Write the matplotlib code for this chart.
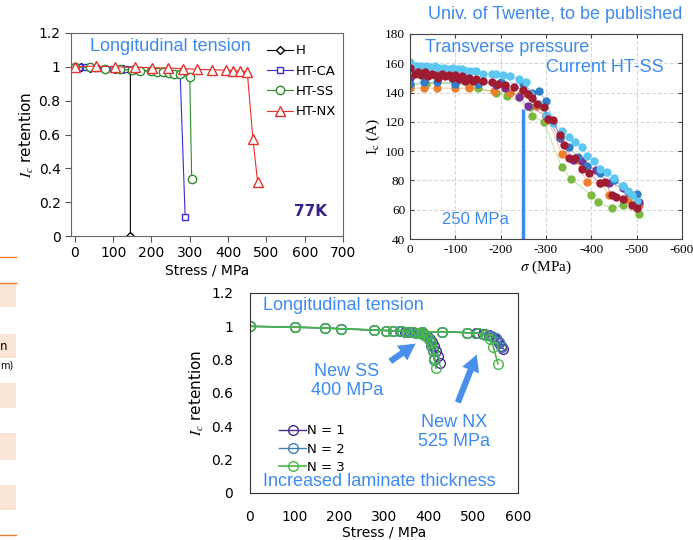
import numpy as np
import matplotlib.pyplot as plt
from matplotlib.patches import Rectangle

plt.rcParams['axes.unicode_minus'] = False
plt.rcParams['mathtext.fontset'] = 'stix'

W, H = 693, 540
BLUE_TXT = '#3d8af0'

# ---- panel 1: longitudinal tension, 77K ----
h_x = [0, 15, 40, 80, 105, 125, 145, 145]
h_y = [1.0, 1.0, 0.995, 0.99, 0.985, 0.985, 0.98, 0.0]
ca_x = [0, 12, 30, 55, 80, 100, 130, 160, 200, 240, 275, 288]
ca_y = [1.0, 1.0, 0.998, 0.995, 0.99, 0.988, 0.985, 0.98, 0.975, 0.965, 0.955, 0.11]
ss_x = [0, 40, 80, 118, 150, 170, 200, 215, 230, 245, 260, 275, 300, 305]
ss_y = [1.0, 0.997, 0.99, 0.985, 0.98, 0.978, 0.975, 0.97, 0.968, 0.965, 0.96, 0.958, 0.938, 0.339]
nx_x = [0, 54, 104, 157, 202, 242, 283, 319, 358, 394, 413, 431, 450, 465, 477]
nx_y = [1.0, 1.005, 1.0, 0.997, 0.995, 0.993, 0.99, 0.985, 0.983, 0.98, 0.978, 0.976, 0.97, 0.572, 0.321]

# ---- panel 2: transverse pressure (Twente) ----
lb_x = [0, -8, -15, -25, -35, -45, -55, -65, -75, -85, -95, -105, -115, -125, -135, -145,
        -160, -180, -190, -205, -220, -240, -255, -265, -285, -300, -315, -335, -350, -365,
        -380, -390, -405, -420, -435, -450, -470, -480, -490, -500]
lb_y = [161, 158, 158, 158, 158, 157.5, 158, 157, 157, 156, 157, 156, 156, 155, 155, 155,
        153, 153, 153, 152, 151, 149, 147, 139, 132, 125, 119, 114, 110, 106,
        103, 97, 93, 88, 86, 82, 76, 73, 70, 66]
bl_x = [0, -30, -60, -100, -150, -200, -250, -270, -285, -300, -330, -350, -370, -390, -420, -450, -470, -500]
bl_y = [146, 147, 147, 146, 146, 147, 146, 140, 141, 134, 110, 103, 96, 90, 85, 80, 76, 71]
pu_x = [0, -35, -100, -130, -190, -210, -240, -260, -300, -330, -360, -380, -410, -440, -470, -480, -505]
pu_y = [150, 151, 150, 149, 145, 143, 137, 131, 124, 109, 94, 93, 87, 78, 75, 72, 65]
mr_x = [0, -10, -18, -25, -32, -40, -48, -55, -62, -70, -78, -85, -92, -100, -108, -115, -122,
        -130, -138, -145, -160, -180, -195, -210, -230, -250, -260, -270, -280, -295, -305,
        -315, -330, -340, -350, -365, -380, -395, -420, -430, -445, -455, -470, -490, -500]
mr_y = [157, 153, 154, 152, 154, 151, 153, 152, 150, 153, 151, 152, 150, 152, 149, 151, 148,
        150, 148, 149, 148, 147, 146, 145, 144, 142, 139, 136, 132, 130, 122,
        121, 111, 104, 95, 95, 88, 85, 78, 79, 70, 69, 67, 63, 61]
or_x = [0, -30, -60, -100, -130, -185, -220, -245, -280, -305, -335, -365, -390, -420, -440, -480, -505]
or_y = [143, 143, 143, 143, 143, 141, 140, 139, 131, 121, 98, 94, 79, 78, 70, 67, 63]
gr_x = [0, -35, -100, -130, -150, -190, -215, -265, -270, -295, -335, -355, -400, -415, -445, -470, -505]
gr_y = [145, 146, 147, 144, 143, 140, 138, 130, 124, 120, 89, 81, 70, 65, 61, 63, 57]

# ---- panel 3: increased laminate thickness ----
n1_ss_x = [0, 100, 168, 204, 278, 304, 321, 336, 348, 358, 366, 374, 382, 390, 397, 403, 408, 412, 416, 420, 425]
n1_ss_y = [1.0, 0.995, 0.99, 0.985, 0.978, 0.975, 0.972, 0.97, 0.968, 0.966, 0.964, 0.962, 0.958, 0.952, 0.94, 0.925, 0.905, 0.88, 0.85, 0.82, 0.78]
n2_ss_x = [0, 100, 168, 204, 278, 304, 321, 336, 350, 362, 372, 382, 390, 397, 402, 406, 409, 412]
n2_ss_y = [1.0, 0.995, 0.99, 0.985, 0.978, 0.975, 0.972, 0.97, 0.968, 0.965, 0.962, 0.958, 0.95, 0.935, 0.915, 0.885, 0.85, 0.80]
n3_ss_x = [0, 100, 168, 204, 278, 304, 321, 340, 352, 364, 375, 385, 393, 400, 405, 410, 413, 416]
n3_ss_y = [1.0, 0.995, 0.99, 0.985, 0.978, 0.975, 0.972, 0.975, 0.968, 0.964, 0.96, 0.955, 0.945, 0.925, 0.9, 0.86, 0.81, 0.75]
n1_nx_x = [385, 430, 485, 507, 522, 535, 545, 552, 558, 563, 567]
n1_nx_y = [0.965, 0.968, 0.962, 0.96, 0.956, 0.948, 0.935, 0.92, 0.9, 0.88, 0.865]
n2_nx_x = [385, 430, 485, 510, 527, 540, 550, 558, 565]
n2_nx_y = [0.965, 0.968, 0.962, 0.96, 0.955, 0.945, 0.93, 0.905, 0.875]
n3_nx_x = [385, 430, 485, 510, 525, 537, 545, 555]
n3_nx_y = [0.965, 0.968, 0.962, 0.958, 0.95, 0.925, 0.875, 0.775]


def pos(l, t, r, b):
    return [l / W, 1 - b / H, (r - l) / W, (b - t) / H]


fig = plt.figure(figsize=(W / 100, H / 100), dpi=100)

# left strip: bits of a neighbouring table
peach = '#fbe5d6'
orange = '#ed7d31'
for t, b in [(283, 307), (334, 358), (383, 408), (433, 460), (485, 510)]:
    fig.add_artist(Rectangle((0, 1 - b / H), 16 / W, (b - t) / H, transform=fig.transFigure,
                             facecolor=peach, edgecolor='none'))
for yy in [257, 283, 535]:
    fig.add_artist(plt.Line2D([0, 16 / W], [1 - yy / H] * 2, transform=fig.transFigure,
                              color=orange, lw=1))
fig.text(0, 1 - 346 / H, 'n', fontsize=8.5, va='center', ha='left')
fig.text(0, 1 - 366 / H, 'm)', fontsize=7, va='center', ha='left')

# ---------------- panel 1 ----------------
ax1 = fig.add_axes(pos(71, 33, 343, 236))
ax1.plot(h_x, h_y, color='black', lw=0.8, marker='D', ms=4, mfc='white', label='H')
ax1.plot(ca_x, ca_y, color='#3a2bd9', lw=0.8, marker='s', ms=5, mfc='white', label='HT-CA')
ax1.plot(ss_x, ss_y, color='#2e8b2e', lw=0.8, marker='o', ms=6, mfc='white', label='HT-SS')
ax1.plot(nx_x, nx_y, color='#e8302a', lw=0.8, marker='^', ms=7, mfc='white', label='HT-NX')
ax1.set_xlim(-10, 700)
ax1.set_ylim(0, 1.2)
ax1.set_xticks(range(0, 701, 100))
ax1.set_yticks([0, 0.2, 0.4, 0.6, 0.8, 1.0, 1.2])
ax1.set_yticklabels(['0', '0.2', '0.4', '0.6', '0.8', '1', '1.2'])
ax1.tick_params(labelsize=10, length=4, color='#555555')
for s in ax1.spines.values():
    s.set_color('#666666')
ax1.set_xlabel('Stress / MPa', fontsize=10, labelpad=2)
ax1.set_ylabel('$I_c$ retention', fontsize=11, labelpad=2)
ax1.legend(loc='upper left', bbox_to_anchor=(0.70, 0.97), frameon=False, fontsize=9.5,
           handlelength=2.0, handletextpad=0.2, labelspacing=0.55, borderaxespad=0)
ax1.text(39, 1.123, 'Longitudinal tension', color=BLUE_TXT, fontsize=13,
         family='Liberation Sans', va='center')
ax1.text(614, 0.142, '77K', color='#3a1f8f', fontsize=11, fontweight='bold',
         ha='center', va='center')

# ---------------- panel 2 ----------------
ax2 = fig.add_axes(pos(410, 34, 682, 239))
series2 = [(gr_x, gr_y, '#7bb842'), (or_x, or_y, '#f07f2a'), (pu_x, pu_y, '#7b3294'),
           (bl_x, bl_y, '#2f7fc8'), (lb_x, lb_y, '#5cc8f2'), (mr_x, mr_y, '#9e1b32')]
for xs, ys, c in series2:
    ax2.plot(xs, ys, color=c, lw=0.7, alpha=0.45)
    ax2.plot(xs, ys, ls='none', marker='o', ms=6, color=c, mec='none')
ax2.set_xlim(0, -600)
ax2.set_ylim(40, 180)
ax2.set_xticks(range(0, -601, -100))
ax2.set_yticks(range(40, 181, 20))
ax2.grid(True, ls='--', color='#d8d8d8', lw=0.8)
ax2.set_axisbelow(True)
ax2.tick_params(direction='in', top=True, right=True, labelsize=9.5, length=3, color='#444444')
for lab in ax2.get_xticklabels() + ax2.get_yticklabels():
    lab.set_family('Liberation Serif')
for s in ax2.spines.values():
    s.set_color('#444444')
ax2.set_xlabel(r'$\sigma$ (MPa)', fontsize=11, family='Liberation Serif', labelpad=2)
ax2.set_ylabel(r'I$_\mathrm{c}$ (A)', fontsize=11, family='Liberation Serif', labelpad=2)
ax2.plot([-250, -250], [40, 129], color=BLUE_TXT, lw=2.5, solid_capstyle='butt')
ax2.text(-33, 171.1, 'Transverse pressure', color=BLUE_TXT, fontsize=13,
         family='Liberation Sans', va='center')
ax2.text(-300, 156.8, 'Current HT-SS', color=BLUE_TXT, fontsize=13,
         family='Liberation Sans', va='center')
ax2.text(-71, 53, '250 MPa', color=BLUE_TXT, fontsize=12,
         family='Liberation Sans', va='center')
ax2.text(-40, 193, 'Univ. of Twente, to be published', color=BLUE_TXT, fontsize=13,
         family='Liberation Sans', va='center', clip_on=False)

# ---------------- panel 3 ----------------
ax3 = fig.add_axes(pos(250, 293, 518, 493))
c1, c2, c3 = '#4b2a8c', '#3f7fb0', '#47b847'
ax3.plot(n1_ss_x, n1_ss_y, color=c1, lw=1.0, marker='o', ms=7, mfc='none', label='N = 1')
ax3.plot(n1_nx_x, n1_nx_y, color=c1, lw=1.0, marker='o', ms=7, mfc='none')
ax3.plot(n2_ss_x, n2_ss_y, color=c2, lw=1.0, marker='o', ms=7, mfc='none', label='N = 2')
ax3.plot(n2_nx_x, n2_nx_y, color=c2, lw=1.0, marker='o', ms=7, mfc='none')
ax3.plot(n3_ss_x, n3_ss_y, color=c3, lw=1.2, marker='o', ms=7, mfc='none', label='N = 3')
ax3.plot(n3_nx_x, n3_nx_y, color=c3, lw=1.2, marker='o', ms=7, mfc='none')
ax3.set_xlim(0, 600)
ax3.set_ylim(0, 1.2)
ax3.set_xticks(range(0, 601, 100))
ax3.set_yticks([0, 0.2, 0.4, 0.6, 0.8, 1.0, 1.2])
ax3.set_yticklabels(['0', '0.2', '0.4', '0.6', '0.8', '1', '1.2'])
ax3.tick_params(length=0, labelsize=10, pad=12)
for s in ax3.spines.values():
    s.set_color('#333333')
ax3.set_xlabel('Stress / MPa', fontsize=10, labelpad=1)
ax3.set_ylabel('$I_c$ retention', fontsize=11, labelpad=4)
ax3.legend(loc='upper left', bbox_to_anchor=(0.09, 0.37), frameon=False, fontsize=9.5,
           handlelength=2.0, handletextpad=0.1, labelspacing=0.4, borderaxespad=0)
ax3.text(29, 1.128, 'Longitudinal tension', color=BLUE_TXT, fontsize=13,
         family='Liberation Sans', va='center')
ax3.text(29, 0.072, 'Increased laminate thickness', color=BLUE_TXT, fontsize=13,
         family='Liberation Sans', va='center')
ax3.text(217, 0.672, 'New SS\n400 MPa', color=BLUE_TXT, fontsize=13,
         family='Liberation Sans', ha='center', va='center', linespacing=1.1)
ax3.text(457, 0.366, 'New NX\n525 MPa', color=BLUE_TXT, fontsize=13,
         family='Liberation Sans', ha='center', va='center', linespacing=1.1)
arrow = dict(arrowstyle='simple,head_width=1.3,head_length=1.2,tail_width=0.45',
             color='#4a90ea', lw=0)
ax3.annotate('', xy=(376, 0.906), xytext=(309, 0.78), arrowprops=arrow)
ax3.annotate('', xy=(510, 0.846), xytext=(463, 0.528), arrowprops=arrow)

fig.savefig('out.png', dpi=100)
